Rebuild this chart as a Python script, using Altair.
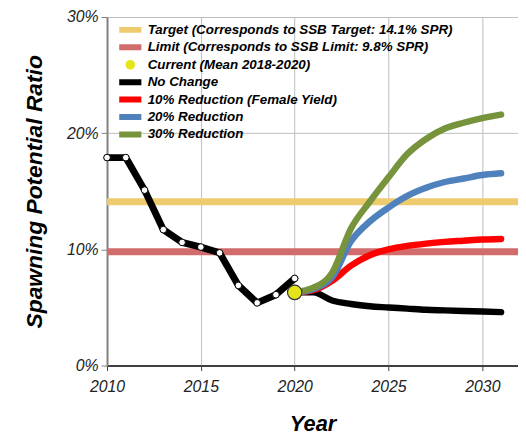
import altair as alt
import pandas as pd

# ---- data ----
hist_years = [2010, 2011, 2012, 2013, 2014, 2015, 2016, 2017, 2018, 2019, 2020]
hist_spr = [17.9, 17.9, 15.1, 11.7, 10.6, 10.2, 9.7, 6.9, 5.4, 6.1, 7.5]

proj_years = [2020, 2021, 2022, 2023, 2024, 2025, 2026, 2027, 2028, 2029, 2030, 2031]
no_change = [6.3, 6.3, 5.6, 5.3, 5.1, 5.0, 4.9, 4.8, 4.75, 4.7, 4.65, 4.6]
red_10 = [6.3, 6.5, 7.3, 8.6, 9.5, 10.0, 10.3, 10.5, 10.65, 10.75, 10.85, 10.9]
blue_20 = [6.3, 6.6, 7.6, 10.7, 12.4, 13.6, 14.6, 15.3, 15.8, 16.1, 16.4, 16.55]
green_30 = [6.3, 6.7, 8.0, 11.8, 14.1, 16.2, 18.2, 19.5, 20.4, 20.9, 21.3, 21.6]

target_spr = 14.1
limit_spr = 9.8
current_year = 2020
current_spr = 6.3

labels = [
    "Target (Corresponds to SSB Target: 14.1% SPR)",
    "Limit (Corresponds to SSB Limit: 9.8% SPR)",
    "Current (Mean 2018-2020)",
    "No Change",
    "10% Reduction (Female Yield)",
    "20% Reduction",
    "30% Reduction",
]
colors = ["#EFCB6F", "#D26B6B", "#E5E51A", "#000000", "#FF0000", "#4F81BD", "#77933C"]
shapes = ["stroke", "stroke", "circle", "stroke", "stroke", "stroke", "stroke"]
sizes = [500, 500, 14, 500, 500, 500, 500]

x_ticks = [2010, 2015, 2020, 2025, 2030]
y_ticks = [0, 0.1, 0.2, 0.3]

FONT = "Liberation Sans"

# ---- tables ----
df_ref = pd.DataFrame({"label": labels[:2], "value": [target_spr / 100, limit_spr / 100]})
proj_series = [(labels[3], no_change), (labels[4], red_10), (labels[5], blue_20), (labels[6], green_30)]
df_hist = pd.DataFrame({"year": hist_years, "value": [v / 100 for v in hist_spr]})
df_cur = pd.DataFrame({"year": [current_year], "value": [current_spr / 100], "label": [labels[2]]})

legend = alt.Legend(
    title=None, orient="none", legendX=9, legendY=6, padding=0,
    symbolType="stroke", symbolStrokeWidth=6, symbolSize=500,
    labelFont=FONT, labelFontSize=13.5, labelFontStyle="italic", labelFontWeight="bold",
    labelColor="#000000", labelOffset=3, rowPadding=3.6, clipHeight=14, labelLimit=450,
)
color_scale = alt.Scale(domain=labels, range=colors)

x_enc = alt.X(
    "year:Q",
    scale=alt.Scale(domain=[2010, 2031.9], nice=False, zero=False),
    axis=alt.Axis(
        values=x_ticks, format="d", title="Year", grid=True, labelFlush=False,
        labelFont=FONT, labelFontSize=16, labelFontStyle="italic", labelColor="#222222",
        titleFont=FONT, titleFontSize=22, titleFontStyle="italic", titleFontWeight="bold",
        titleColor="#000000", titlePadding=20, labelPadding=8, tickSize=5,
        tickColor="#404040", domainColor="#404040", domainWidth=2,
        gridColor="#BEBEBE", gridWidth=1, gridOpacity=1,
    ),
)
y_enc = alt.Y(
    "value:Q",
    scale=alt.Scale(domain=[0, 0.3], nice=False),
    axis=alt.Axis(
        values=y_ticks, format=".0%", title="Spawning Potential Ratio", grid=True,
        labelFont=FONT, labelFontSize=16, labelFontStyle="italic", labelColor="#222222",
        titleFont=FONT, titleFontSize=23, titleFontStyle="italic", titleFontWeight="bold",
        titleColor="#000000", titlePadding=20, labelPadding=3, tickSize=6,
        tickColor="#808080", domainColor="#808080", domainWidth=2,
        gridColor="#BEBEBE", gridWidth=1, gridOpacity=1,
    ),
)

ref_layer = alt.Chart(df_ref).mark_rule(strokeWidth=7).encode(
    y=y_enc,
    color=alt.Color("label:N", scale=color_scale, legend=legend),
)

layers = [ref_layer]
for name, vals in proj_series:
    dfp = pd.DataFrame({"year": proj_years, "value": [v / 100 for v in vals], "label": name})
    layers.append(
        alt.Chart(dfp).mark_line(strokeWidth=6.5, interpolate="monotone", strokeCap="round").encode(
            x=x_enc, y=y_enc,
            color=alt.Color("label:N", scale=color_scale, legend=legend),
        )
    )

hist_line = alt.Chart(df_hist).mark_line(
    color="#000000", strokeWidth=7, strokeJoin="round", strokeCap="round"
).encode(x=x_enc, y=y_enc)
hist_pts = alt.Chart(df_hist).mark_point(
    filled=True, fill="#FFFFFF", stroke="#000000", strokeWidth=1, size=45, opacity=1
).encode(x=x_enc, y=y_enc)

cur_legend_pt = alt.Chart(df_cur).mark_point(filled=True, opacity=1).encode(
    x=x_enc, y=y_enc,
    color=alt.Color("label:N", scale=color_scale, legend=legend),
    shape=alt.Shape("label:N", scale=alt.Scale(domain=labels, range=shapes), legend=legend),
    size=alt.Size("label:N", scale=alt.Scale(type="ordinal", domain=labels, range=sizes), legend=legend),
)
cur_pt = alt.Chart(df_cur).mark_point(
    filled=True, fill="#E5E51A", stroke="#333333", strokeWidth=1.2, size=210, opacity=1
).encode(x=x_enc, y=y_enc)

layers += [hist_line, hist_pts, cur_legend_pt, cur_pt]

chart = alt.layer(*layers).properties(
    width=415, height=352,
    autosize=alt.AutoSizeParams(type="none"),
    padding={"left": 100, "top": 7, "right": 0, "bottom": 68},
).configure_view(
    fill="#DDDDDD", stroke="#606060", strokeWidth=2
).configure_axis(
    grid=True
).configure(background="#FFFFFF")

chart.save("out.html", embed_options={"renderer": "svg", "actions": False})
